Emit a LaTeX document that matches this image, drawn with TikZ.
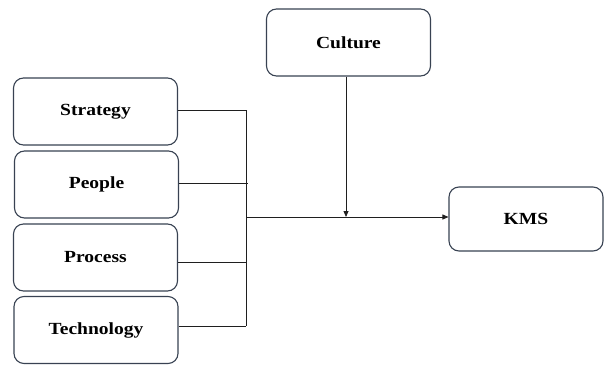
\documentclass[tikz,border=0pt]{standalone}
\usepackage{fontspec}
\setmainfont{Liberation Serif}[FakeStretch=1.15]
\usetikzlibrary{arrows.meta}
\definecolor{boxline}{rgb}{0.22,0.26,0.32}
\definecolor{conn}{rgb}{0.12,0.12,0.12}
\begin{document}
\begin{tikzpicture}[x=1pt,y=-1pt,
  factor/.style={draw=boxline,line width=1.1pt,rounded corners=10pt,
    minimum width=164pt,minimum height=67pt,inner sep=0pt,
    font=\fontsize{17}{20}\selectfont\bfseries},
  link/.style={draw=conn,line width=0.8pt},
  arr/.style={link,-{Triangle[length=6pt,width=5pt]}}]
\useasboundingbox (0,0) rectangle (604,364);
\node[factor] (s) at (95.5,111.5) {Strategy};
\node[factor] (p) at (96.5,184.5) {People};
\node[factor] (r) at (95.5,257.5) {Process};
\node[factor] (t) at (96,330) {Technology};
\node[factor] (c) at (348.5,42.5) {Culture};
\node[factor,minimum width=154pt,minimum height=64pt] (k) at (526,219) {KMS};
\coordinate (bus) at (246,217);
\draw[link] (s.east |- 0,110) -- (246,110) coordinate (btop) -- (246,326) coordinate (bbot);
\draw[link] (p.east |- 0,183) -- (248,183);
\draw[link] (r.east |- 0,262) -- (246,262);
\draw[link] (t.east |- 0,326) -- (bbot);
\draw[arr] (bus) -- (bus -| k.west);
\draw[arr] (c.south -| 346,0) -- (346,217);
\end{tikzpicture}
\end{document}
